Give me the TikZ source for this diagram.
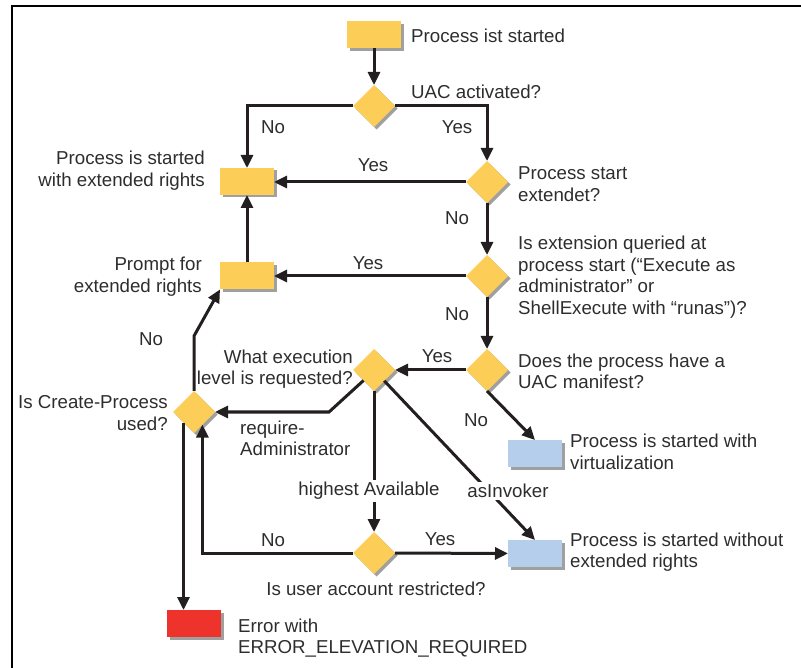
\documentclass[tikz,border=0pt]{standalone}
\usepackage{fontspec}
\setmainfont{Liberation Sans}
\usetikzlibrary{arrows.meta,shapes.geometric,shadows,calc}

\definecolor{decyellow}{RGB}{252,205,87}
\definecolor{okblue}{RGB}{181,206,236}
\definecolor{errred}{RGB}{238,51,45}
\definecolor{shadowgray}{RGB}{160,160,160}
\definecolor{linecol}{RGB}{35,31,32}
\definecolor{textgray}{RGB}{45,45,45}

\tikzset{
  boxshadow/.style={drop shadow={shadow xshift=2.5pt,shadow yshift=-2.5pt,fill=shadowgray,opacity=1}},
  decision/.style={diamond, fill=decyellow, minimum width=42pt, minimum height=42pt,
    inner sep=0pt, outer sep=0pt, boxshadow},
  procbox/.style={rectangle, minimum width=54pt, minimum height=27pt,
    inner sep=0pt, outer sep=0pt, boxshadow},
  txt/.style={font=\fontsize{18.7}{21.5}\selectfont, text=textgray, inner sep=0pt},
  onlabel/.style={txt, fill=white, inner xsep=1pt, inner ysep=2pt},
  link/.style={draw=linecol, line width=3pt},
  flow/.style={link, -{Triangle[length=13pt,width=12pt]}},
}

\begin{document}
\begin{tikzpicture}[x=1pt,y=-1pt]
\useasboundingbox (0,0) rectangle (801,668);

% frame
\draw[line width=2pt] (12,668) -- (12,6) -- (801,6);

% boxes and decisions
\node[procbox, fill=decyellow] (start) at (374,35) {};
\node[decision] (d1) at (374,106) {};
\node[procbox, fill=decyellow] (p1) at (247,181.5) {};
\node[decision] (d2) at (487,182) {};
\node[decision] (d3) at (487,276) {};
\node[procbox, fill=decyellow] (p2) at (247,276) {};
\node[decision] (d6) at (487,370) {};
\node[decision] (d5) at (374,370) {};
\node[decision] (d4) at (194,412) {};
\node[procbox, fill=okblue] (r3) at (535,453.5) {};
\node[decision] (d7) at (374,553) {};
\node[procbox, fill=okblue] (r4) at (535,553.5) {};
\node[procbox, fill=errred] (err) at (194,623.5) {};

% helper points on the lower edges of the Create-Process decision
\coordinate (d4se) at ($(d4.south)!0.4!(d4.east)$);
\coordinate (d4sw) at ($(d4.south)!0.5!(d4.west)$);
\coordinate (k1) at (194,336);
\coordinate (ra) at (329,412);

% connectors
\draw[flow] (start.south) -- (d1.north);
\draw[flow] (d1.west) -| (p1.north);
\draw[flow] (d1.east) -| (d2.north);
\draw[flow] (d2.west) -- (d2.west -| p1.east);
\draw[flow] (d2.south) -- (d3.north);
\draw[flow] (d3.west) -- (d3.west -| p2.east);
\draw[flow] (d3.south) -- (d6.north);
\draw[flow] (p2.north) -- (p1.south);
\draw[flow] (d6.west) -- (d5.east);
\draw[flow] (d6.south) -- (r3.north);
\draw[flow] (d5.south west) -- (ra) -- (d4.east);
\draw[flow] (d5.south) -- (d7.north);
\draw[flow] (d5) -- (r4.north);
\draw[flow] (d7.east) -- (r4.west);
\draw[flow] (d7.west) -| (d4se);
\draw[flow] (d4.north) -- (k1) -- (p2.south west);
\draw[flow] (d4sw) -- (d4sw |- err.north);

% texts beside the shapes
\node[txt, anchor=west] (t0) at (411,36) {Process ist started};
\node[txt, anchor=west] (t1) at (411,92) {UAC activated?};
\node[txt, anchor=west, align=left] (t2) at (518,184) {Process start\\extendet?};
\node[txt, anchor=west, align=left] (t3) at (518,277) {Is extension queried at\\process start (“Execute as\\administrator” or\\ShellExecute with “runas”)?};
\node[txt, anchor=west, align=left] (t6) at (518,371.5) {Does the process have a\\UAC manifest?};
\node[txt, anchor=west, align=left] (tr3) at (570,452) {Process is started with\\virtualization};
\node[txt, anchor=west, align=left] (tr4) at (570,552) {Process is started without\\extended rights};
\node[txt, anchor=west, align=left] (terr) at (238,638) {Error with\\ERROR\_ELEVATION\_REQUIRED};
\node[txt, anchor=east, align=right] (tp1) at (205,170.5) {Process is started\\with extended rights};
\node[txt, anchor=east, align=right] (tp2) at (202,276.5) {Prompt for\\extended rights};
\node[txt, anchor=east, align=right] (t5) at (353,369) {What execution\\level is requested?};
\node[txt, anchor=east, align=right] (t4) at (168,413) {Is Create-Process\\used?};
\node[txt] (t7) at (376,589) {Is user account restricted?};

% branch labels
\node[txt] (l1) at (273,127) {No};
\node[txt] (l2) at (457,127) {Yes};
\node[txt] (l3) at (373,165) {Yes};
\node[txt] (l4) at (457,218) {No};
\node[txt] (l5) at (368,263) {Yes};
\node[txt] (l6) at (457,314) {No};
\node[txt] (l7) at (151,339) {No};
\node[txt] (l8) at (437,356) {Yes};
\node[txt] (l9) at (476,420) {No};
\node[txt, anchor=west, align=left] (l10) at (240,438.5) {require-\\Administrator};
\node[onlabel] (l11) at (369,491) {highest Available};
\node[onlabel] (l12) at (508,491) {asInvoker};
\node[txt] (l13) at (273,540) {No};
\node[txt] (l14) at (440,539) {Yes};
\end{tikzpicture}
\end{document}
